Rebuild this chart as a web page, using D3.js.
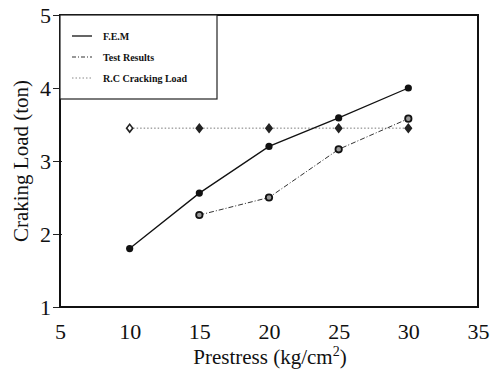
<!DOCTYPE html>
<html><head><meta charset="utf-8">
<script src="https://cdn.jsdelivr.net/npm/d3@7"></script>
</head><body style="margin:0"><svg id="c" width="491" height="375" style="font-family:'Liberation Serif'"></svg>
<script>
const prestress = [10, 15, 20, 25, 30];
const femValues = [1.8, 2.56, 3.2, 3.59, 4.0];
const testPrestress = [15, 20, 25, 30];
const testValues = [2.26, 2.5, 3.16, 3.58];
const rcValues = [3.45, 3.45, 3.45, 3.45, 3.45];
const xTicks = [5, 10, 15, 20, 25, 30, 35];
const yTicks = [1, 2, 3, 4, 5];
const legendLabels = ["F.E.M", "Test Results", "R.C Cracking Load"];

const FF = '"Liberation Serif"';
const svg = d3.select("#c");
const L = 60, R = 478, T = 15, B = 307;
const x = d3.scaleLinear().domain([5, 35]).range([L, R]);
const y = d3.scaleLinear().domain([1, 5]).range([B, T]);

const yAxis = d3.axisLeft(y).tickValues(yTicks).tickSize(7).tickFormat(d3.format("d"));
const gy = svg.append("g").attr("transform", `translate(${L},0)`).call(yAxis);
gy.attr("font-family", null);
gy.select(".domain").remove();
gy.selectAll("line").attr("stroke", "#222").attr("stroke-width", 1).attr("x2", -7).attr("x1", 2);
gy.selectAll("text").style("font-family", FF).attr("font-size", 22).attr("fill", "#111").attr("x", -9);

const xAxis = d3.axisBottom(x).tickValues(xTicks).tickSize(0).tickFormat(d3.format("d"));
const gx = svg.append("g").attr("transform", `translate(0,${B})`).call(xAxis);
gx.attr("font-family", null);
gx.select(".domain").remove();
gx.selectAll("text").style("font-family", FF).attr("font-size", 22).attr("fill", "#111").attr("dy", "1.3em");

svg.append("rect").attr("x", L).attr("y", T).attr("width", R - L).attr("height", B - T)
  .attr("fill", "none").attr("stroke", "#111").attr("stroke-width", 2);

const xt = svg.append("text").attr("x", 270).attr("y", 364).attr("text-anchor", "middle")
  .style("font-family", FF).attr("font-size", 21).attr("fill", "#111");
xt.append("tspan").text("Prestress (kg/cm");
xt.append("tspan").attr("dy", -8).attr("font-size", 14).text("2");
xt.append("tspan").attr("dy", 8).text(")");
svg.append("text").attr("transform", `translate(28,${(T + B) / 2}) rotate(-90)`).attr("text-anchor", "middle")
  .style("font-family", FF).attr("font-size", 21).attr("fill", "#111").text("Craking Load (ton)");

const line = d3.line().x(d => x(d[0])).y(d => y(d[1]));
const fem = prestress.map((p, i) => [p, femValues[i]]);
const test = testPrestress.map((p, i) => [p, testValues[i]]);
const rc = prestress.map((p, i) => [p, rcValues[i]]);

svg.append("path").attr("d", line(rc)).attr("fill", "none").attr("stroke", "#777").attr("stroke-width", 1).attr("stroke-dasharray", "1.5,2");
svg.append("path").attr("d", line(test)).attr("fill", "none").attr("stroke", "#333").attr("stroke-width", 1).attr("stroke-dasharray", "5,2,1,2");
svg.append("path").attr("d", line(fem)).attr("fill", "none").attr("stroke", "#111").attr("stroke-width", 1.3);

const diamond = d3.symbol().type(d3.symbolDiamond).size(18);
svg.selectAll(".rc").data(rc).enter().append("path").attr("class", "rc")
  .attr("transform", d => `translate(${x(d[0])},${y(d[1])}) scale(1.35,1)`).attr("d", diamond)
  .attr("fill", (d, i) => i === 0 ? "#fff" : "#222").attr("stroke", "#222").attr("stroke-width", 1.3);
svg.selectAll(".te").data(test).enter().append("circle").attr("class", "te")
  .attr("cx", d => x(d[0])).attr("cy", d => y(d[1])).attr("r", 3.2)
  .attr("fill", "#999").attr("stroke", "#111").attr("stroke-width", 1.8);
svg.selectAll(".fe").data(fem).enter().append("circle").attr("class", "fe")
  .attr("cx", d => x(d[0])).attr("cy", d => y(d[1])).attr("r", 3.6).attr("fill", "#111");

const lg = svg.append("g");
lg.append("rect").attr("x", L).attr("y", T).attr("width", 157).attr("height", 84)
  .attr("fill", "#fff").attr("stroke", "#222").attr("stroke-width", 1.2);
const styles = [
  {stroke: "#111", dash: null, w: 1.3},
  {stroke: "#333", dash: "4,2,1,2", w: 1.2},
  {stroke: "#888", dash: "1.5,2", w: 1}
];
const ly = [36, 57, 78];
legendLabels.forEach((t, i) => {
  lg.append("line").attr("x1", 72).attr("x2", 92).attr("y1", ly[i]).attr("y2", ly[i])
    .attr("stroke", styles[i].stroke).attr("stroke-width", styles[i].w).attr("stroke-dasharray", styles[i].dash);
  lg.append("text").attr("x", 103).attr("y", ly[i] + 3.5)
    .style("font-family", FF).attr("font-size", 10).attr("font-weight", "bold").attr("fill", "#111").text(t);
});
</script></body></html>
